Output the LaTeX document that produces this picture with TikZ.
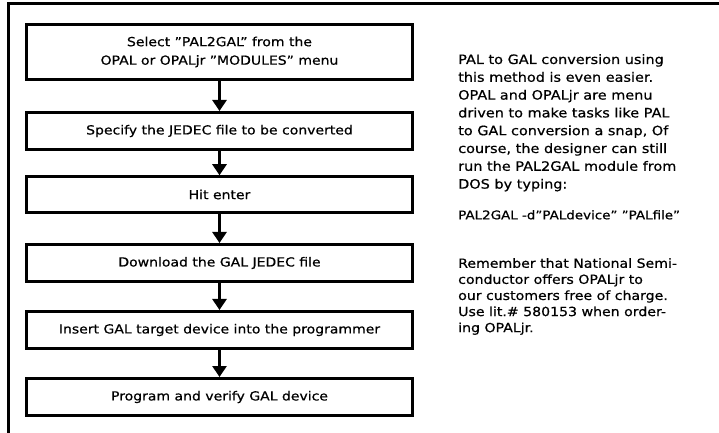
\documentclass[tikz,border=0pt]{standalone}
\usepackage{fontspec}
\setmainfont{DejaVu Sans}[FakeStretch=1.12,FakeBold=0.6]
\usetikzlibrary{arrows.meta}
\newcommand{\qq}{\char"22\relax}
\begin{document}
\begin{tikzpicture}[x=1bp,y=-1bp,
  stepbox/.style={draw=black,line width=3.2bp,minimum width=386bp,inner sep=0pt,align=center,
    font=\fontsize{12.5bp}{18.5bp}\selectfont},
  flow/.style={line width=3bp,-{Triangle[width=14bp,length=11bp]}},
  para/.style={anchor=north west,align=left,inner sep=0pt}]
\useasboundingbox (0,0) rectangle (719,433);
\fill[white] (0,0) rectangle (719,433);
% open frame
\draw[line width=3bp] (8,433) -- (8,4) -- (719,4);
% steps
\node[stepbox,minimum height=54.8bp] (s1) at (219.5,52) {Select \qq PAL2GAL\qq{} from the\\OPAL or OPALjr \qq MODULES\qq{} menu};
\node[stepbox,minimum height=36.8bp] (s2) at (219.5,131) {Specify the JEDEC file to be converted};
\node[stepbox,minimum height=35.3bp] (s3) at (219.5,194.5) {Hit enter};
\node[stepbox,minimum height=36.8bp] (s4) at (219.5,263) {Download the GAL JEDEC file};
\node[stepbox,minimum height=36.8bp] (s5) at (219.5,330) {Insert GAL target device into the programmer};
\node[stepbox,minimum height=36.8bp] (s6) at (219.5,397) {Program and verify GAL device};
\draw[flow] (s1.south) -- (s2.north);
\draw[flow] (s2.south) -- (s3.north);
\draw[flow] (s3.south) -- (s4.north);
\draw[flow] (s4.south) -- (s5.north);
\draw[flow] (s5.south) -- (s6.north);
% side text
\node[para,font=\fontsize{12.9bp}{17.8bp}\selectfont] (t1) at (458,54) {PAL to GAL conversion using\\this method is even easier.\\OPAL and OPALjr are menu\\driven to make tasks like PAL\\to GAL conversion a snap, Of\\course, the designer can still\\run the PAL2GAL module from\\DOS by typing:};
\node[para,font=\fontsize{12bp}{12bp}\selectfont] (t2) at (458,210) {PAL2GAL -d\qq PALdevice\qq{} \qq PALfile\qq};
\node[para,font=\fontsize{12.6bp}{16.1bp}\selectfont] (t3) at (458,258) {Remember that National Semi-\\conductor offers OPALjr to\\our customers free of charge.\\Use lit.\# 580153 when order-\\ing OPALjr.};
\end{tikzpicture}
\end{document}
